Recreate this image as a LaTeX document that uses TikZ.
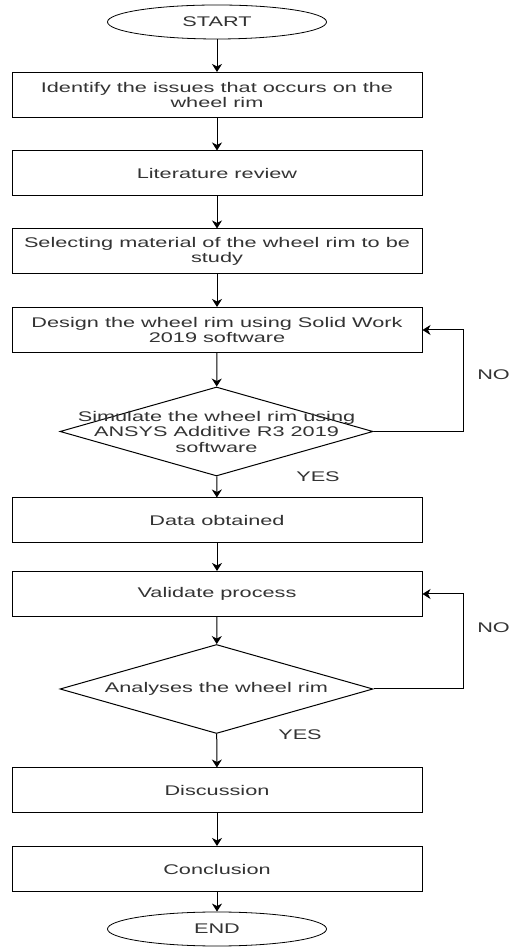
\documentclass[tikz,border=0pt]{standalone}
\usepackage{fontspec}
\setmainfont[FakeStretch=1.55]{Liberation Sans}
\usetikzlibrary{shapes.geometric,arrows.meta}
\begin{document}
\begin{tikzpicture}[x=1pt,y=1pt,
  procBox/.style={draw=drawColor,line width=1pt,rectangle,minimum width=410pt,minimum height=45pt,inner sep=0pt,text=textColor,align=center,font=\fontsize{14}{15.6}\selectfont},
  termBox/.style={draw=drawColor,line width=0.8pt,ellipse,minimum width=219pt,minimum height=34pt,inner sep=0pt,text=textColor,font=\fontsize{14}{15.6}\selectfont},
  decBox/.style={draw=drawColor,line width=1pt,diamond,minimum width=313pt,minimum height=89pt,inner sep=0pt},
  plainText/.style={text=textColor,align=center,inner sep=0pt,font=\fontsize{14}{15.6}\selectfont},
  flow/.style={draw=drawColor,line width=1pt,-{Stealth[length=8pt,width=10pt,inset=2.5pt]}}]
\definecolor{drawColor}{RGB}{0,0,0}
\definecolor{textColor}{RGB}{51,51,51}
\path[use as bounding box,fill=white] (0,0) rectangle (512,947);

\node[termBox] (start) at (217,925) {START};
\node[procBox] (identify) at (217,852) {Identify the issues that occurs on the\\wheel rim};
\node[procBox] (review) at (217,773.5) {Literature review};
\node[procBox] (material) at (217,695.5) {Selecting material of the wheel rim to be\\study};
\node[procBox] (design) at (217,617) {Design the wheel rim using Solid Work\\2019 software};
\node[decBox] (simulate) at (216.5,515.5) {};
\node[plainText] (simText) at (216.5,515) {Simulate the wheel rim using\\ANSYS Additive R3 2019\\software};
\node[procBox] (data) at (217,426.5) {Data obtained};
\node[procBox] (validate) at (217,353) {Validate process};
\node[decBox] (analyse) at (216.5,258) {};
\node[plainText] (analyseText) at (216.5,258) {Analyses the wheel rim};
\node[procBox] (discuss) at (217,156.5) {Discussion};
\node[procBox] (conclude) at (217,78) {Conclusion};
\node[termBox] (finish) at (217,18) {END};

\draw[flow] (start) -- (identify);
\draw[flow] (identify) -- (review);
\draw[flow] (review) -- (material);
\draw[flow] (material) -- (design);
\draw[flow] (design) -- (simulate);
\draw[flow] (simulate) -- (data);
\draw[flow] (data) -- (validate);
\draw[flow] (validate) -- (analyse);
\draw[flow] (analyse) -- (discuss);
\draw[flow] (discuss) -- (conclude);
\draw[flow] (conclude) -- (finish);

% loops back
\draw[flow] (simulate.east) -- ++(90,0) |- (design.east);
\draw[flow] (analyse.east) -- ++(90,0) |- (validate.east);

\node[plainText,anchor=east] (noA) at (510,572) {NO};
\node[plainText] (yesA) at (318,470) {YES};
\node[plainText,anchor=east] (noB) at (510,319) {NO};
\node[plainText] (yesB) at (300,212) {YES};
\end{tikzpicture}
\end{document}
